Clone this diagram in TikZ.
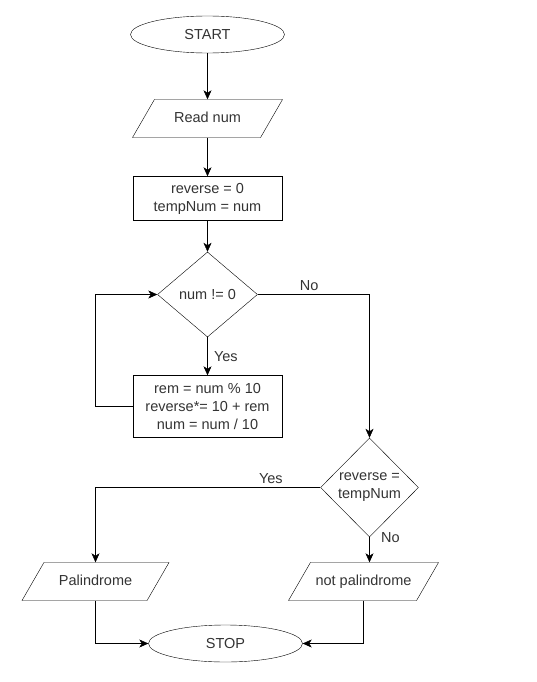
\documentclass[tikz,border=0pt]{standalone}
\usepackage{fontspec}
\setmainfont{Liberation Sans}
\usetikzlibrary{shapes.geometric, arrows.meta, positioning}
\tikzset{
->, % every connector is directed
>={Stealth[length=9pt, width=8pt, inset=2.5pt]}, % filled arrow heads
line width=1.3pt, % lines a bit heavier than default
every node/.style={font=\fontsize{14.5}{18}\selectfont, text=black!80, align=center}, % text of all nodes
terminal/.style={ellipse, draw, inner sep=0pt, minimum width=154pt, minimum height=37pt}, % START and STOP
io/.style={trapezium, trapezium left angle=60, trapezium right angle=120, trapezium stretches body=true, draw, inner xsep=0pt, inner ysep=12pt, text height=11pt, text depth=3pt, minimum width=150pt}, % input and output
process/.style={rectangle, draw, inner sep=0pt, minimum width=149pt}, % plain steps
decision/.style={diamond, draw, inner sep=0pt}, % tests
}

\begin{document}
\begin{tikzpicture}[x=1pt, y=1pt]
    \useasboundingbox (0,0) rectangle (537,-682);
    \node[terminal] (start) at (207.5,-34.5) {START};
    \node[io, below of=start, node distance=84pt] (read) {Read num};
    \node[process, minimum height=44pt, below of=read, node distance=80pt] (init) {reverse = 0\\tempNum = num};
    \node[decision, minimum width=100pt, minimum height=85pt, below of=init, node distance=96pt] (test) {num != 0};
    \node[process, minimum height=62pt, below of=test, node distance=112pt] (body) {rem = num \% 10\\reverse*= 10 + rem\\num = num / 10};
    \node[decision, minimum width=98pt, minimum height=99pt, below of=body, node distance=81pt, xshift=162pt] (check) {reverse =\\tempNum};
    \node[io, minimum width=147pt, below of=check, node distance=94pt, xshift=-274pt] (yes) {Palindrome};
    \node[io, below of=check, node distance=94pt, xshift=-6pt] (no) {not palindrome};
    \node[terminal, below of=yes, node distance=62pt, xshift=130pt] (stop) {STOP};
    \draw (start) -- (read);
    \draw (init |- read.south) -- (init);
    \draw (init) -- (test);
    \draw (test) -- node[right=3pt] {Yes} (body);
    \draw (test.east) -| node[pos=0.23, above] {No} (check.north);
    \draw (body.west) -- ++(-37.5,0) |- (test.west);
    \draw (check.west) -| node[pos=0.11, above] {Yes} (yes.north);
    \draw (check.south) -- node[pos=0, right=8pt] {No} (check.south |- no.north);
    \draw (yes.south) |- (stop.west);
    \draw (no.south) |- (stop.east);
  \end{tikzpicture}
\end{document}
